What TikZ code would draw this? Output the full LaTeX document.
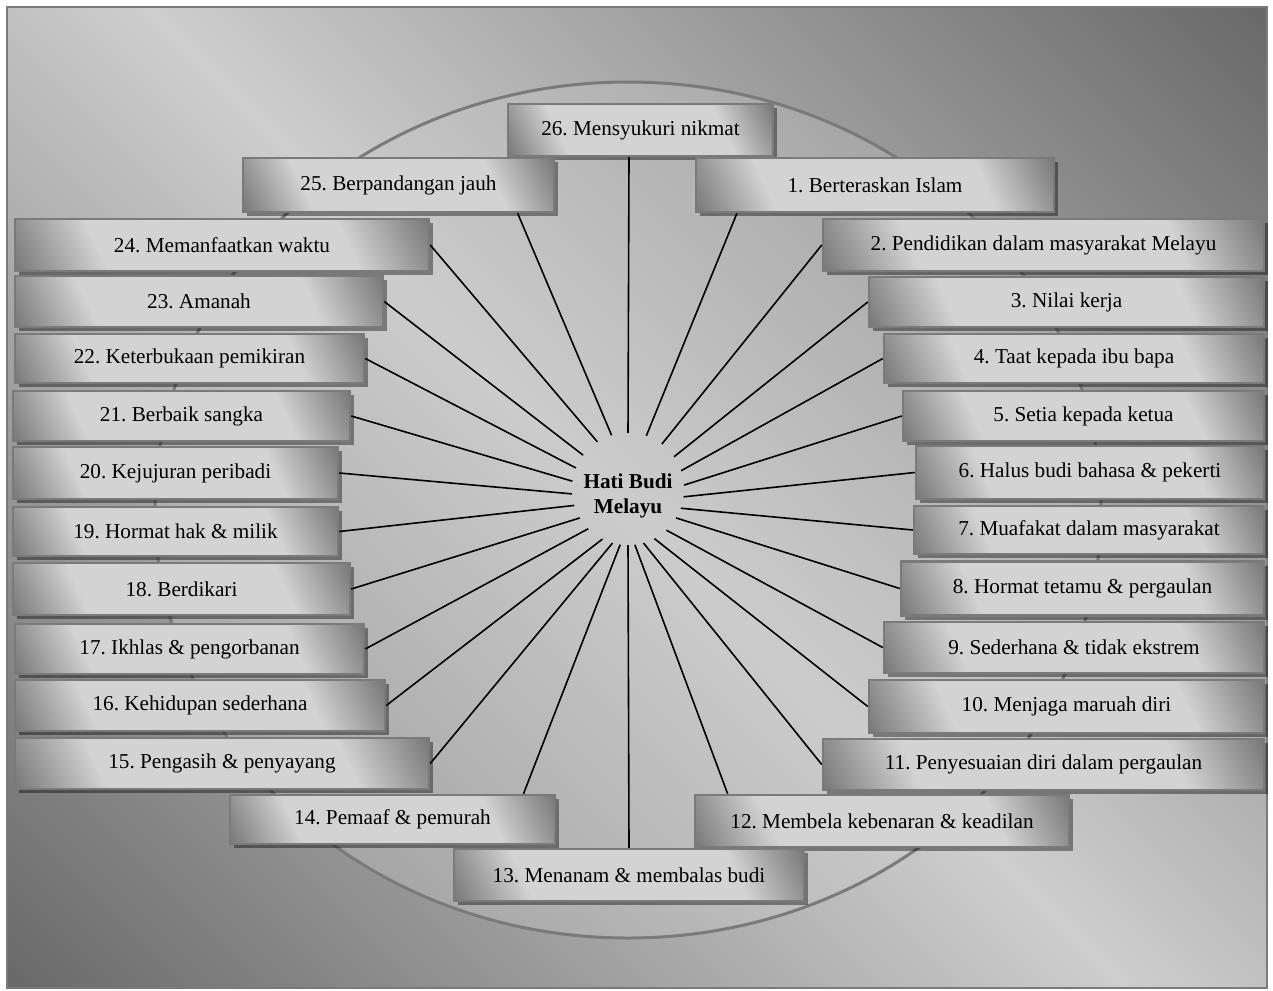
\documentclass[tikz,border=0pt]{standalone}
\usepackage{fontspec}
\setmainfont{Liberation Serif}
\usepackage{tikz}
\usetikzlibrary{calc, shadows}
\definecolor{BgDark}{RGB}{106,106,106}
\definecolor{BgLight}{RGB}{206,206,206}
\definecolor{RingDark}{RGB}{150,150,150}
\definecolor{RingLight}{RGB}{204,204,204}
\definecolor{BoxDark}{RGB}{108,108,108}
\definecolor{BoxLight}{RGB}{211,211,211}
\definecolor{LineGray}{RGB}{122,122,122}
\pgfdeclarehorizontalshading{bgshade}{100bp}{color(0bp)=(BgDark); color(15bp)=(BgDark); color(50bp)=(BgLight); color(85bp)=(BgDark); color(100bp)=(BgDark)}
\pgfdeclarehorizontalshading{ringshade}{100bp}{color(0bp)=(RingDark); color(15bp)=(RingDark); color(50bp)=(RingLight); color(85bp)=(RingDark); color(100bp)=(RingDark)}
\pgfdeclarehorizontalshading{boxshade}{100bp}{color(0bp)=(BoxDark); color(15bp)=(BoxDark); color(31bp)=(BoxLight); color(69bp)=(BoxLight); color(85bp)=(BoxDark); color(100bp)=(BoxDark)}
\tikzstyle{itembox} = [rectangle, draw=LineGray, line width=2.5pt, shading=boxshade, shading angle=25, minimum height=52pt, inner sep=0pt, text=black, drop shadow={shadow xshift=4pt, shadow yshift=-4pt, opacity=0.4, fill=black}]
\tikzstyle{spoke} = [draw=black, line width=1.6pt]

\begin{document}
\frenchspacing
\begin{tikzpicture}[x=1pt, y=-1pt, font=\fontsize{21.2}{25}\selectfont]
	\useasboundingbox (0,0) rectangle (1273,990);
	% FRAME AND RING
	\draw [draw=LineGray, line width=2pt, shading=bgshade, shading angle=45] (7,7) rectangle (1267,988);
	\draw [draw=LineGray, line width=3pt, shading=ringshade, shading angle=45] (628,510) ellipse [x radius=473, y radius=428];

	% CENTRE
	\node (hati) [circle, minimum size=112pt, inner sep=0pt, align=center, font=\fontsize{21.2}{25}\selectfont\bfseries] at (628,489) {\rule{0pt}{29pt}Hati Budi\\Melayu};

	% VALUES
	\node (box26) [itembox, minimum width=265pt] at (640.5,130) {26. Mensyukuri nikmat};
	\node (box25) [itembox, minimum width=311pt, minimum height=54pt] at (398.5,185) {25. Berpandangan jauh};
	\node (box1) [itembox, minimum width=358pt, minimum height=54pt] at (875,185) {1. Berteraskan Islam};
	\node (box24) [itembox, minimum width=414pt] at (222,245) {24. Memanfaatkan waktu};
	\node (box2) [itembox, minimum width=441pt] at (1043.5,245) {2. Pendidikan dalam masyarakat Melayu};
	\node (box23) [itembox, minimum width=368pt, minimum height=51pt] at (199,301.5) {23. Amanah};
	\node (box3) [itembox, minimum width=395pt, minimum height=50pt] at (1066.5,302) {3. Nilai kerja};
	\node (box22) [itembox, minimum width=349pt, minimum height=49pt] at (189.5,358.5) {22. Keterbukaan pemikiran};
	\node (box4) [itembox, minimum width=380pt, minimum height=49pt] at (1074,358.5) {4. Taat kepada ibu bapa};
	\node (box21) [itembox, minimum width=337pt, minimum height=50pt] at (181.5,416) {21. Berbaik sangka};
	\node (box5) [itembox, minimum width=361pt, minimum height=50pt] at (1083.5,416) {5. Setia kepada ketua};
	\node (box20) [itembox, minimum width=325pt] at (175.5,473) {20. Kejujuran peribadi};
	\node (box6) [itembox, minimum width=348pt, minimum height=53pt] at (1090,472.5) {6. Halus budi bahasa \& pekerti};
	\node (box19) [itembox, minimum width=325pt, minimum height=49pt] at (175.5,531.5) {19. Hormat hak \& milik};
	\node (box7) [itembox, minimum width=350pt, minimum height=48pt] at (1089,530) {7. Muafakat dalam masyarakat};
	\node (box18) [itembox, minimum width=337pt] at (181.5,589) {18. Berdikari};
	\node (box8) [itembox, minimum width=363pt, minimum height=54pt] at (1082.5,588.5) {8. Hormat tetamu \& pergaulan};
	\node (box17) [itembox, minimum width=349pt, minimum height=50pt] at (189.5,649) {17. Ikhlas \& pengorbanan};
	\node (box9) [itembox, minimum width=380pt, minimum height=51pt] at (1074,647.5) {9. Sederhana \& tidak ekstrem};
	\node (box16) [itembox, minimum width=370pt, minimum height=51pt] at (200,705.5) {16. Kehidupan sederhana};
	\node (box10) [itembox, minimum width=395pt, minimum height=53pt] at (1066.5,706.5) {10. Menjaga maruah diri};
	\node (box15) [itembox, minimum width=414pt, minimum height=51pt] at (222,763.5) {15. Pengasih \& penyayang};
	\node (box11) [itembox, minimum width=441pt, minimum height=51pt] at (1043.5,764.5) {11. Penyesuaian diri dalam pergaulan};
	\node (box14) [itembox, minimum width=325pt, minimum height=49pt] at (392.5,819.5) {14. Pemaaf \& pemurah};
	\node (box12) [itembox, minimum width=374pt] at (882,821) {12. Membela kebenaran \& keadilan};
	\node (box13) [itembox, minimum width=350pt] at (629,875) {13. Menanam \& membalas budi};

	% SPOKES
	\draw [spoke] (hati.90)  -- ($(box26.south west)!0.457!(box26.south east)$);
	\draw [spoke] (hati.71)  -- ($(box1.south west)!0.117!(box1.south east)$);
	\draw [spoke] (hati.53)  -- (box2.west);
	\draw [spoke] (hati.35)  -- (box3.west);
	\draw [spoke] (hati.19)  -- (box4.west);
	\draw [spoke] (hati.4)   -- (box5.west);
	\draw [spoke] (hati.352) -- (box6.west);
	\draw [spoke] (hati.340) -- (box7.west);
	\draw [spoke] (hati.329) -- (box8.west);
	\draw [spoke] (hati.313) -- (box9.west);
	\draw [spoke] (hati.298) -- (box10.west);
	\draw [spoke] (hati.286) -- (box11.west);
	\draw [spoke] (hati.277) -- ($(box12.north west)!0.09!(box12.north east)$);
	\draw [spoke] (hati.270) -- (box13.north);
	\draw [spoke] (hati.262) -- ($(box14.north west)!0.9!(box14.north east)$);
	\draw [spoke] (hati.254) -- (box15.east);
	\draw [spoke] (hati.243) -- (box16.east);
	\draw [spoke] (hati.225) -- (box17.east);
	\draw [spoke] (hati.211) -- (box18.east);
	\draw [spoke] (hati.197) -- (box19.east);
	\draw [spoke] (hati.185) -- (box20.east);
	\draw [spoke] (hati.172) -- (box21.east);
	\draw [spoke] (hati.158) -- (box22.east);
	\draw [spoke] (hati.143) -- (box23.east);
	\draw [spoke] (hati.123) -- (box24.east);
	\draw [spoke] (hati.107) -- ($(box25.south west)!0.88!(box25.south east)$);
\end{tikzpicture}
\end{document}
